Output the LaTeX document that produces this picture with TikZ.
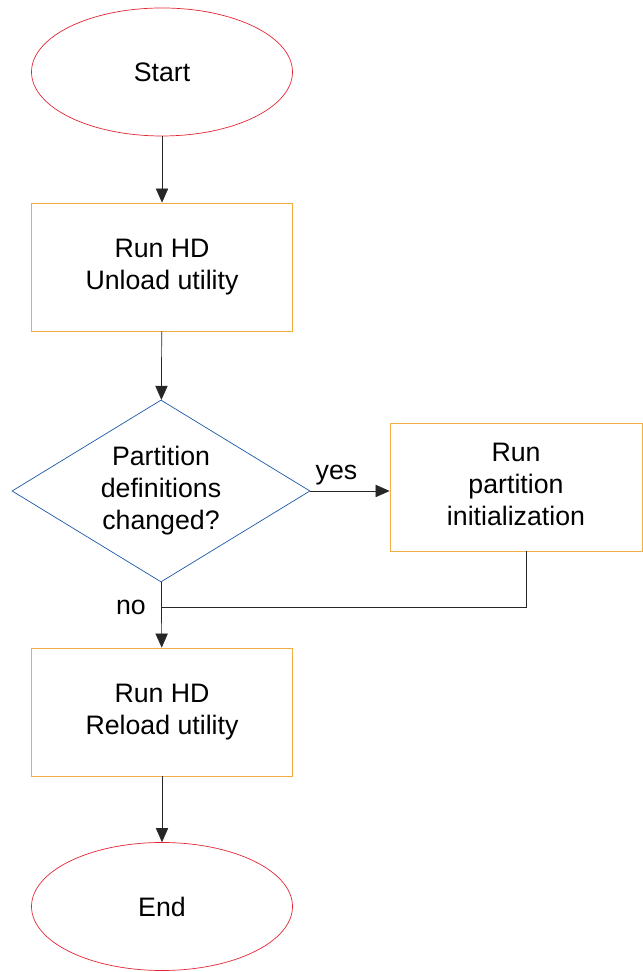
\documentclass[tikz,border=0pt]{standalone}
\usepackage{fontspec}
\setmainfont{Liberation Sans}
\usepackage{tikz}
\usetikzlibrary{shapes.geometric}
\usetikzlibrary{arrows.meta}

\definecolor{termred}{RGB}{228,38,52}
\definecolor{boxorange}{RGB}{242,172,64}
\definecolor{askblue}{RGB}{28,88,168}

\begin{document}
\begin{tikzpicture}[font=\fontsize{15.2}{18.2}\selectfont]
\useasboundingbox (0,0) rectangle (12.84,19.44);
\begin{scope}[every node/.style={thin,draw,align=center,inner sep=0pt},
              term/.style={ellipse,draw=termred,minimum width=5.22cm,minimum height=2.56cm},
              stepbox/.style={rectangle,draw=boxorange,minimum width=5.22cm,minimum height=2.56cm},
              ask/.style={diamond,draw=askblue,aspect=1.64,minimum width=5.96cm,minimum height=3.64cm}]
    \node[term] (start) at (3.24, 18.00) {Start};
    \node[stepbox] (unload) at (3.24, 14.10) {Run HD\\Unload utility};
    \node[ask] (changed) at (3.22, 9.62) {\raisebox{5pt}{\begin{tabular}{@{}c@{}}Partition\\definitions\\changed?\end{tabular}}};
    \node[stepbox,minimum width=5.04cm] (init) at (10.32, 9.70) {\raisebox{2pt}{\begin{tabular}{@{}c@{}}Run\\partition\\initialization\end{tabular}}};
    \node[stepbox] (reload) at (3.24, 5.20) {Run HD\\Reload utility};
    \node[term] (end) at (3.24, 1.31) {End};
\end{scope}
\coordinate (turn) at (10.52, 7.30);
\coordinate (merge) at (3.24, 7.30);
\begin{scope}[>={Triangle[length=8pt,width=7pt]},
              every node/.style={inner sep=1pt},
              flow/.style={draw=black!85,thin}]
    \path [->] (start) edge [flow] (unload);
    \path [->] (unload) edge [flow] (changed);
    \path [->] (changed.east) edge [flow] node[above=2pt,pos=0.33] {yes} (changed.east -| init.west);
    \path [->] (changed) edge [flow] (reload);
    \draw [flow] (turn |- init.south) -- (turn) -- (merge);
    \node[left=8pt] (nolabel) at (merge) {no};
    \path [->] (reload) edge [flow] (end);
\end{scope}
\end{tikzpicture}
\end{document}
